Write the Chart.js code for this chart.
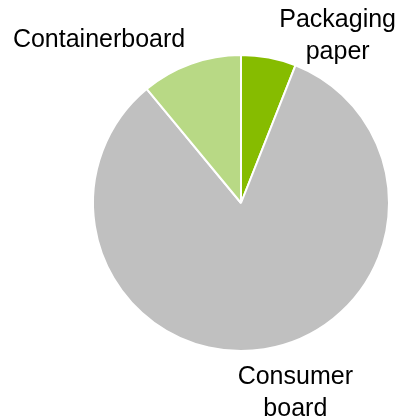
<!DOCTYPE html>
<html>
<head>
<meta charset="utf-8">
<script src="https://cdn.jsdelivr.net/npm/chart.js@4.4.1/dist/chart.umd.min.js"></script>
<style>
  html, body { margin: 0; padding: 0; background: #fff; }
  #wrap { width: 402px; height: 419px; position: relative; }
</style>
</head>
<body>
<div id="wrap"><canvas id="pie"></canvas></div>
<script>
// data (share of total, %)
const categories = ["Packaging paper", "Consumer board", "Containerboard"];
const labelLines = [["Packaging", "paper"], ["Consumer", "board"], ["Containerboard"]];
const shares = [6, 83, 11];
const sliceColors = ["#86bc00", "#c0c0c0", "#b8d985"];

// where each label sits, relative to the pie centre, in units of radius
const labelAnchors = [[0.653, -1.19], [0.367, 1.224], [-0.959, -1.054]];

const outsideLabels = {
    id: 'outsideLabels',
    afterDraw(chart) {
        const ctx = chart.ctx;
        const arcs = chart.getDatasetMeta(0).data;
        ctx.save();
        ctx.font = '25px "Liberation Sans", Arial, sans-serif';
        ctx.fillStyle = '#000';
        ctx.textAlign = 'center';
        ctx.textBaseline = 'alphabetic';
        arcs.forEach((arc, i) => {
            const r = arc.outerRadius;
            const x = arc.x + labelAnchors[i][0] * r;
            let y = arc.y + labelAnchors[i][1] * r;
            labelLines[i].forEach((line) => {
                ctx.fillText(line, x, y);
                y += 32;
            });
        });
        ctx.restore();
    }
};

const ctx = document.getElementById('pie').getContext('2d');
const pieChart = new Chart(ctx, {
    type: 'pie',
    data: {
        labels: categories,
        datasets: [{
            data: shares,
            backgroundColor: sliceColors,
            borderColor: '#ffffff',
            borderWidth: 2
        }]
    },
    options: {
        responsive: true,
        maintainAspectRatio: false,
        animation: false,
        layout: { padding: { left: 92, right: 12, top: 54, bottom: 67 } },
        plugins: {
            legend: { display: false },
            tooltip: { enabled: false }
        }
    },
    plugins: [outsideLabels]
});
</script>
</body>
</html>
